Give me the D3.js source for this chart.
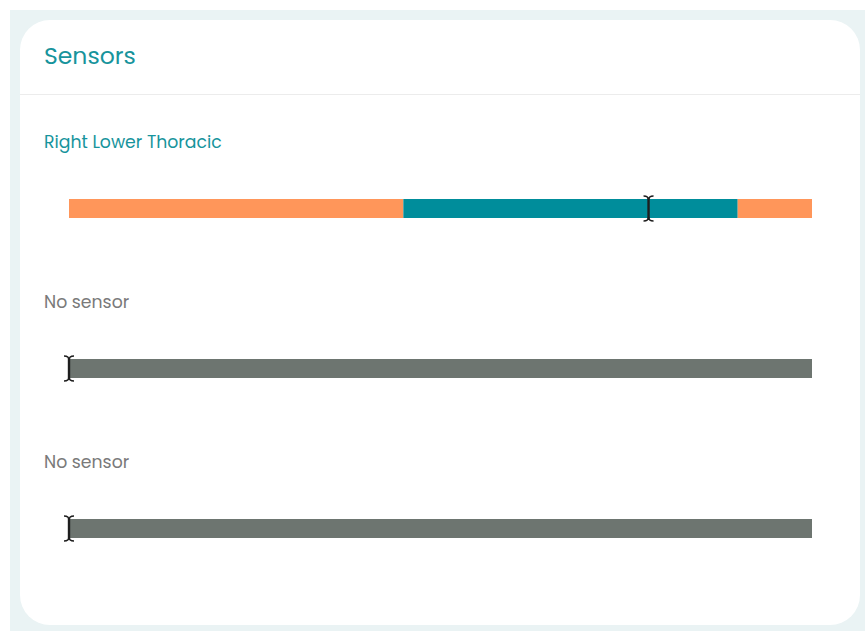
<!DOCTYPE html>
<html>
<head>
<meta charset="utf-8">
<script src="https://cdn.jsdelivr.net/npm/d3@7"></script>
<style>
  html, body { margin: 0; padding: 0; background: #ffffff; }
  svg { display: block; }
  text { font-family: "Poppins", "Inter", "Noto Sans", sans-serif; }
</style>
</head>
<body>
<svg width="865" height="631"></svg>
<script>
// sensor rows
var labels = ["Right Lower Thoracic", "No sensor", "No sensor"]
var active = [true, false, false]
var markers = [78, 0, 0]

// segments of the first row (start, end, zone)
var segStart = [0, 45, 90]
var segEnd = [45, 90, 100]
var segZone = ["out", "in", "out"]

var zoneColor = { "out": "#ff965a", "in": "#008d9b", "none": "#6d7570" }

var svg = d3.select("svg"),
	width = +svg.attr("width"),
	height = +svg.attr("height")

// page backdrop + card
svg.append("rect").attr("x", 10).attr("y", 10).attr("width", width - 10).attr("height", height - 10)
	.attr("fill", "#eaf3f4")
svg.append("rect").attr("x", 20).attr("y", 20).attr("width", 840).attr("height", 605)
	.attr("rx", 30).attr("ry", 30).attr("fill", "#ffffff")

svg.append("text").attr("x", 44).attr("y", 64)
	.attr("font-size", 23.5).attr("fill", "#17949c").attr("font-weight", 400)
	.text("Sensors")
svg.append("line").attr("x1", 20).attr("x2", 860).attr("y1", 94.5).attr("y2", 94.5)
	.attr("stroke", "#ececec").attr("stroke-width", 1)

var x = d3.scaleLinear().domain([0, 100]).range([69, 812])
var rowY = d3.scalePoint().domain(d3.range(labels.length)).range([148, 468])
var barH = 19

var rows = svg.selectAll("g.row").data(labels).enter().append("g")
	.attr("class", "row")
	.attr("transform", (d, i) => "translate(0," + rowY(i) + ")")

rows.append("text")
	.attr("x", 44).attr("y", 0)
	.attr("font-size", 17.3)
	.attr("font-weight", 400)
	.attr("fill", (d, i) => active[i] ? "#17949c" : "#7a7a7a")
	.text(d => d)

rows.each(function(d, i) {
	var g = d3.select(this)
	var segs = active[i]
		? segStart.map((s, k) => ({ s: s, e: segEnd[k], z: segZone[k] }))
		: [{ s: 0, e: 100, z: "none" }]
	g.selectAll("rect.seg").data(segs).enter().append("rect")
		.attr("class", "seg")
		.attr("x", s => x(s.s))
		.attr("width", s => x(s.e) - x(s.s))
		.attr("y", 51).attr("height", barH)
		.attr("fill", s => zoneColor[s.z])

	// I-beam marker
	var mx = x(markers[i]), top = 48, bot = 51 + barH + 3
	var m = g.append("g").attr("fill", "none").attr("stroke", "#1e1e1e").attr("stroke-width", 2.4)
	m.append("line").attr("x1", mx).attr("x2", mx).attr("y1", top + 2).attr("y2", bot - 2)
	m.append("path").attr("stroke-width", 1.5)
		.attr("d", "M" + (mx - 5) + "," + top + "Q" + mx + "," + top + " " + mx + "," + (top + 4)
			+ "Q" + mx + "," + top + " " + (mx + 5) + "," + top)
	m.append("path").attr("stroke-width", 1.5)
		.attr("d", "M" + (mx - 5) + "," + bot + "Q" + mx + "," + bot + " " + mx + "," + (bot - 4)
			+ "Q" + mx + "," + bot + " " + (mx + 5) + "," + bot)
})
</script>
</body>
</html>
